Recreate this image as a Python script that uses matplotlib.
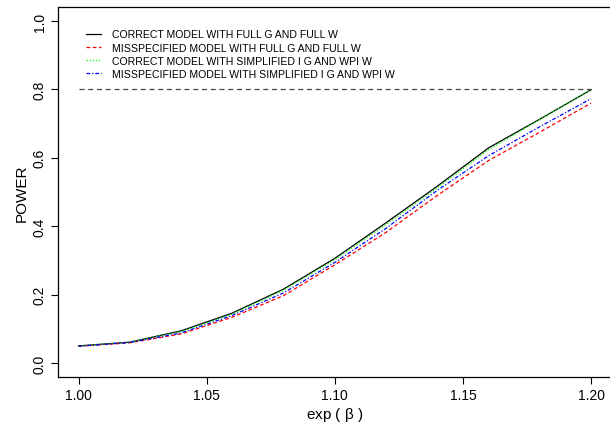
import numpy as np
import matplotlib.pyplot as plt

plt.rcParams['font.family'] = ['Liberation Sans', 'DejaVu Sans']

exp_beta = [1.00, 1.02, 1.04, 1.06, 1.08, 1.10, 1.12, 1.14, 1.16, 1.18, 1.20]
power_correct_full = [0.050, 0.061, 0.094, 0.146, 0.216, 0.306, 0.410, 0.517, 0.629, 0.713, 0.799]
power_misspec_full = [0.049, 0.059, 0.085, 0.134, 0.197, 0.287, 0.382, 0.490, 0.592, 0.675, 0.760]
power_correct_simpl = [0.050, 0.061, 0.092, 0.143, 0.213, 0.302, 0.405, 0.512, 0.624, 0.712, 0.799]
power_misspec_simpl = [0.049, 0.060, 0.088, 0.139, 0.205, 0.294, 0.394, 0.505, 0.606, 0.691, 0.773]
target_power = 0.8

labels = ["CORRECT MODEL WITH FULL G AND FULL W",
          "MISSPECIFIED MODEL WITH FULL G AND FULL W",
          "CORRECT MODEL WITH SIMPLIFIED I G AND WPI W",
          "MISSPECIFIED MODEL WITH SIMPLIFIED I G AND WPI W"]

fig = plt.figure(figsize=(6.10, 4.31), dpi=100)
ax = fig.add_axes([0.0951, 0.1237, 0.9075, 0.857])

ax.plot(exp_beta, power_correct_full, color='black', lw=0.9, ls='-', label=labels[0])
ax.plot(exp_beta, power_misspec_full, color='#ff0000', lw=0.9, ls=(0, (3, 2)), label=labels[1])
ax.plot(exp_beta, power_correct_simpl, color='#00ff00', lw=0.9, ls=(0, (1, 1.5)), label=labels[2])
ax.plot(exp_beta, power_misspec_simpl, color='#0000ff', lw=0.9, ls=(0, (3, 1.5, 1, 1.5)), label=labels[3])
ax.plot([exp_beta[0], exp_beta[-1]], [target_power, target_power], color='#444444', lw=0.9, ls=(0, (4, 3)))

ax.set_xlim(0.992, 1.208)
ax.set_ylim(-0.04, 1.04)
ax.set_xticks([1.00, 1.05, 1.10, 1.15, 1.20])
ax.set_xticklabels(["1.00", "1.05", "1.10", "1.15", "1.20"])
ax.set_yticks([0.0, 0.2, 0.4, 0.6, 0.8, 1.0])
ax.set_yticklabels(["0.0", "0.2", "0.4", "0.6", "0.8", "1.0"], rotation=90, va='center')
ax.tick_params(direction='out', length=5, width=0.8, labelsize=10, pad=3)
for s in ax.spines.values():
    s.set_linewidth(0.9)
# the box runs off the right edge, so no right border shows
ax.spines['right'].set_visible(False)

ax.set_xlabel(r"exp ( $\mathregular{\beta}$ )", fontsize=11, labelpad=2)
ax.set_ylabel("POWER", fontsize=11, labelpad=3)

ax.legend(loc='upper left', bbox_to_anchor=(0.05, 0.94), frameon=False, fontsize=7.6,
          handlelength=1.45, handletextpad=1.05, labelspacing=0.3, borderaxespad=0,
          borderpad=0)

fig.savefig("out.png", dpi=100)
